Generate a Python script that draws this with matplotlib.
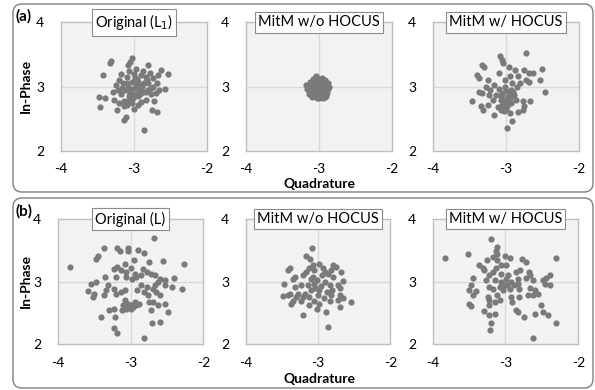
import matplotlib.pyplot as plt
import matplotlib.transforms as mtrans
from matplotlib.patches import FancyBboxPatch

plt.rcParams['font.family'] = ['Lato', 'DejaVu Sans']

# (a) original L1
a1_x = [-3.31, -3.33, -3.03, -3.05, -3.08, -2.81, -2.63, -2.53, -2.67, -3.42,
        -2.58, -3.47, -3.40, -3.46, -3.23, -3.11, -3.13, -2.86, -2.75, -2.69,
        -3.20, -3.15, -3.12, -3.10, -3.08, -3.05, -3.03, -3.00, -2.98, -2.96,
        -2.94, -2.92, -2.90, -2.88, -2.86, -2.84, -2.82, -2.80, -2.78, -2.76,
        -2.74, -2.72, -3.18, -3.14, -3.10, -3.06, -3.02, -2.99, -2.95, -2.90,
        -3.22, -3.25, -3.17, -3.06, -2.97, -2.87, -2.80, -2.77, -2.70, -3.13,
        -3.00, -2.93, -2.89, -3.04, -3.09, -2.97, -2.91, -2.84, -3.01, -2.83,
        -3.27, -3.20, -2.74, -2.68, -2.65, -3.29, -3.16, -2.95, -3.07, -2.99]
a1_y = [3.40, 3.37, 3.44, 3.39, 3.34, 3.34, 3.26, 3.19, 3.18, 3.18,
        2.96, 2.84, 2.83, 2.68, 2.64, 2.53, 2.48, 2.33, 2.63, 2.60,
        3.10, 3.05, 2.95, 3.15, 3.00, 2.90, 3.08, 3.20, 2.98, 3.12,
        2.85, 3.02, 3.18, 2.92, 3.05, 2.80, 3.10, 2.95, 3.22, 2.88,
        3.00, 2.78, 2.88, 2.78, 2.72, 2.80, 2.75, 2.88, 2.72, 2.76,
        2.95, 3.02, 3.20, 3.25, 3.28, 3.25, 3.05, 2.98, 2.90, 2.70,
        2.65, 2.95, 3.00, 2.96, 3.06, 3.04, 2.88, 2.92, 2.83, 3.15,
        2.80, 2.75, 3.13, 3.05, 2.95, 2.92, 2.98, 3.08, 2.86, 3.13]

# (a) MitM w/o HOCUS
a2_x = [-3.15, -3.12, -3.10, -3.08, -3.06, -3.05, -3.03, -3.01, -2.99, -2.97,
        -2.95, -2.93, -2.91, -2.89, -2.87, -3.14, -3.11, -3.09, -3.07, -3.04,
        -3.02, -3.00, -2.98, -2.96, -2.94, -2.92, -2.90, -2.88, -3.13, -3.10,
        -3.06, -3.03, -3.00, -2.97, -2.94, -2.91, -3.08, -3.05, -3.02, -2.99,
        -2.96, -2.93, -3.17, -3.16, -2.86, -3.04, -2.95, -3.01]
a2_y = [3.00, 3.08, 2.92, 3.12, 2.86, 3.02, 3.14, 2.95, 3.06, 2.85,
        3.10, 2.98, 3.04, 2.90, 2.96, 2.94, 3.04, 2.84, 2.98, 2.92,
        3.08, 2.82, 3.00, 3.14, 2.88, 3.10, 2.86, 3.05, 2.88, 2.98,
        3.06, 2.83, 2.96, 3.02, 2.93, 2.84, 3.03, 2.90, 3.00, 2.87,
        2.97, 3.07, 3.02, 2.96, 3.00, 3.16, 2.82, 3.12]

# (a) MitM w/ HOCUS
a3_x = [-2.72, -3.08, -3.05, -3.04, -3.32, -3.30, -2.87, -2.75, -2.68, -2.63,
        -2.51, -2.53, -2.46, -3.10, -3.39, -3.37, -3.24, -2.83, -2.73, -2.68,
        -3.46, -3.34, -3.31, -3.24, -3.16, -2.95, -2.92, -2.99, -2.76, -2.67,
        -2.75, -2.76, -2.86, -2.84, -3.37, -3.32, -3.27, -3.16, -3.23, -3.18,
        -3.11, -3.07, -3.02, -2.98, -2.93, -2.91, -2.95, -3.01, -3.09, -3.05,
        -3.14, -3.07, -3.00, -2.93, -2.89, -2.85, -2.81, -3.21, -2.96, -3.03,
        -2.99, -2.95, -3.05, -3.00, -2.97, -3.02, -2.94, -3.06, -2.90, -3.01]
a3_y = [3.53, 3.47, 3.42, 3.37, 3.34, 3.31, 3.26, 3.26, 3.21, 3.22,
        3.28, 3.11, 2.92, 3.21, 3.18, 3.13, 3.10, 3.16, 3.10, 3.08,
        2.77, 2.70, 2.64, 2.72, 2.56, 2.59, 2.47, 2.35, 2.78, 2.78,
        2.70, 2.64, 2.79, 2.61, 2.92, 2.90, 3.00, 3.03, 2.87, 2.79,
        2.69, 2.64, 2.74, 2.84, 2.95, 3.05, 3.16, 3.10, 2.97, 2.90,
        2.87, 2.79, 2.66, 2.74, 2.87, 3.00, 3.06, 2.95, 3.31, 2.80,
        2.70, 2.90, 2.72, 2.93, 2.76, 2.62, 2.82, 2.85, 2.92, 3.00]

# (b) original L
b1_x = [-2.68, -3.37, -3.18, -3.15, -3.03, -3.03, -2.90, -2.81, -3.45, -3.48,
        -2.95, -2.74, -2.56, -2.27, -3.83, -3.07, -3.18, -3.22, -3.13, -3.06,
        -3.00, -2.94, -2.83, -2.78, -2.72, -2.67, -3.35, -3.20, -3.06, -2.98,
        -2.92, -2.86, -2.59, -2.53, -2.40, -2.29, -2.43, -2.53, -2.62, -2.67,
        -2.69, -2.77, -2.81, -2.76, -2.65, -2.59, -2.86, -2.91, -3.08, -3.13,
        -3.20, -3.22, -3.31, -3.33, -3.37, -3.47, -3.54, -3.59, -3.50, -3.52,
        -3.08, -3.04, -2.99, -2.94, -2.92, -3.06, -3.11, -2.99, -2.74, -2.69,
        -2.72, -2.62, -2.52, -2.48, -3.22, -3.30, -3.40, -3.21, -3.22, -3.18,
        -2.82, -2.71, -2.59, -3.02, -2.96, -3.10, -2.88]
b1_y = [3.70, 3.53, 3.53, 3.49, 3.54, 3.49, 3.51, 3.45, 3.41, 3.36,
        3.35, 3.31, 3.33, 3.28, 3.24, 3.28, 3.24, 3.20, 3.19, 3.16,
        3.21, 3.13, 3.20, 3.16, 3.12, 3.11, 3.08, 3.08, 3.08, 3.05,
        3.08, 3.11, 3.04, 3.03, 3.06, 2.89, 2.92, 2.95, 3.00, 2.95,
        2.88, 2.92, 2.84, 2.79, 2.84, 2.79, 2.94, 2.87, 2.87, 2.84,
        2.81, 2.89, 2.94, 2.87, 2.79, 3.00, 2.97, 2.85, 2.81, 2.76,
        2.71, 2.65, 2.63, 2.67, 2.62, 2.57, 2.55, 2.57, 2.68, 2.67,
        2.55, 2.62, 2.65, 2.52, 2.56, 2.55, 2.43, 2.43, 2.26, 2.18,
        2.10, 2.34, 2.36, 2.60, 2.60, 2.62, 2.65]

# (b) MitM w/o HOCUS
b2_x = [-3.08, -3.17, -3.11, -3.39, -3.42, -3.07, -2.98, -2.79, -2.75, -2.82,
        -2.68, -3.12, -3.16, -3.05, -2.93, -3.32, -3.35, -3.21, -3.07, -2.95,
        -2.86, -2.79, -2.66, -3.47, -3.32, -3.23, -3.14, -3.05, -2.91, -2.84,
        -2.72, -2.70, -2.80, -2.88, -2.98, -3.09, -3.18, -3.28, -3.39, -3.49,
        -3.41, -3.30, -3.21, -3.12, -3.00, -2.92, -2.82, -2.70, -2.65, -3.35,
        -3.37, -3.23, -3.12, -3.02, -2.84, -2.72, -2.55, -2.70, -2.89, -3.21,
        -2.86, -3.06, -2.98, -3.02, -2.96, -3.10, -2.90, -3.04]
b2_y = [3.54, 3.41, 3.36, 3.22, 3.19, 3.27, 3.28, 3.27, 3.24, 3.19,
        3.16, 3.21, 3.16, 3.19, 3.21, 3.08, 3.05, 3.11, 3.08, 3.11,
        3.13, 3.08, 3.01, 2.97, 2.92, 2.95, 2.95, 2.97, 3.00, 2.95,
        2.95, 2.90, 2.87, 2.84, 2.87, 2.87, 2.81, 2.81, 2.81, 2.77,
        2.79, 2.76, 2.76, 2.76, 2.79, 2.74, 2.79, 2.79, 2.74, 2.69,
        2.65, 2.69, 2.63, 2.57, 2.69, 2.71, 2.68, 2.60, 2.52, 2.47,
        2.27, 2.69, 2.65, 3.02, 2.93, 3.04, 3.15, 2.90]

# (b) MitM w/ HOCUS
b3_x = [-3.20, -3.83, -3.51, -3.11, -3.13, -3.11, -3.17, -3.26, -3.11, -3.00,
        -2.94, -2.77, -2.72, -2.31, -3.37, -3.31, -3.13, -3.06, -2.99, -3.29,
        -3.17, -3.22, -3.06, -2.97, -2.85, -2.80, -2.68, -2.67, -2.72, -3.45,
        -3.27, -3.15, -3.06, -2.99, -2.92, -2.83, -2.83, -2.62, -2.49, -2.44,
        -2.39, -2.46, -2.39, -3.47, -3.50, -3.40, -3.23, -3.17, -3.08, -3.01,
        -2.94, -2.88, -2.81, -2.67, -2.60, -2.56, -2.62, -2.69, -3.45, -3.24,
        -3.11, -3.08, -3.15, -3.22, -2.92, -2.91, -2.81, -3.50, -3.47, -3.23,
        -3.29, -3.23, -3.15, -2.85, -2.83, -2.74, -2.60, -2.51, -2.49, -2.42,
        -2.31, -3.20, -3.21, -2.62, -3.04, -2.98]
b3_y = [3.68, 3.38, 3.44, 3.56, 3.49, 3.44, 3.40, 3.35, 3.35, 3.41,
        3.38, 3.36, 3.32, 3.38, 3.27, 3.22, 3.21, 3.26, 3.27, 3.19,
        3.16, 3.11, 3.13, 3.11, 3.16, 3.19, 3.16, 3.11, 3.06, 3.06,
        3.03, 3.03, 3.00, 3.05, 3.00, 3.05, 2.97, 3.03, 3.03, 3.06,
        3.10, 2.97, 2.94, 2.95, 2.87, 2.85, 2.92, 2.89, 2.92, 2.95,
        2.89, 2.94, 2.89, 2.90, 2.87, 2.80, 2.79, 2.78, 2.79, 2.76,
        2.79, 2.71, 2.68, 2.71, 2.76, 2.68, 2.76, 2.65, 2.61, 2.62,
        2.53, 2.47, 2.49, 2.55, 2.52, 2.44, 2.48, 2.63, 2.52, 2.46,
        2.34, 2.34, 2.23, 2.10, 2.87, 2.95]

titles_a = ['Original (L$_1$)', 'MitM w/o HOCUS', 'MitM w/ HOCUS']
titles_b = ['Original (L)', 'MitM w/o HOCUS', 'MitM w/ HOCUS']
xticks = [-4, -3, -2]
yticks = [2, 3, 4]

W, H = 595, 390
fig = plt.figure(figsize=(W / 100, H / 100), dpi=100)

def px_axes(left, top, right, bottom):
    return fig.add_axes([left / W, 1 - bottom / H, (right - left) / W, (bottom - top) / H])

def draw_panel(ax, xs, ys, title):
    ax.set_facecolor('#f2f2f2')
    ax.axvline(-3, color='#d9d9d9', lw=1, zorder=1)
    ax.axhline(3, color='#d9d9d9', lw=1, zorder=1)
    ax.scatter(xs, ys, s=20, color='#7a7a7a', linewidths=0, zorder=3)
    ax.set_xlim(-4, -2)
    ax.set_ylim(2, 4)
    ax.set_xticks(xticks)
    ax.set_yticks(yticks)
    ax.set_xticklabels([str(t) for t in xticks])
    ax.set_yticklabels([str(t) for t in yticks])
    ax.tick_params(length=0, labelsize=10, colors='black', pad=12)
    ax.tick_params(axis='x', pad=9)
    for sp in ax.spines.values():
        sp.set_color('#bfbfbf')
        sp.set_linewidth(1)
    ax.text(0.5, 1.0, title, transform=ax.transAxes, ha='center', va='center',
            fontsize=10.5, zorder=5,
            bbox=dict(boxstyle='square,pad=0.22', fc='white', ec='#8c8c8c', lw=0.8))

# outer rounded frames
for y0, y1 in [(4, 192), (198, 388)]:
    box = FancyBboxPatch((13, H - y1), 580, y1 - y0, boxstyle='round,pad=0,rounding_size=9',
                         transform=mtrans.IdentityTransform(), fc='none', ec='#7f7f7f', lw=1)
    fig.patches.append(box)

row_a = [(60.7, 207), (245.7, 392), (432.7, 579)]
row_b = [(57.7, 203.3), (245.7, 390.3), (432.7, 578.3)]
data_a = [(a1_x, a1_y), (a2_x, a2_y), (a3_x, a3_y)]
data_b = [(b1_x, b1_y), (b2_x, b2_y), (b3_x, b3_y)]

for (l, r), (xs, ys), t in zip(row_a, data_a, titles_a):
    draw_panel(px_axes(l, 22.4, r, 151), xs, ys, t)
for (l, r), (xs, ys), t in zip(row_b, data_b, titles_b):
    draw_panel(px_axes(l, 219, r, 344.3), xs, ys, t)

fig.text(15 / W, 1 - 16 / H, '(a)', fontsize=11, fontweight='bold', va='center', ha='left')
fig.text(15 / W, 1 - 211 / H, '(b)', fontsize=11, fontweight='bold', va='center', ha='left')
fig.text(26 / W, 1 - 86 / H, 'In-Phase', fontsize=10, fontweight='bold', rotation=90,
         va='center', ha='center')
fig.text(26 / W, 1 - 281 / H, 'In-Phase', fontsize=10, fontweight='bold', rotation=90,
         va='center', ha='center')
fig.text(320 / W, 1 - 184 / H, 'Quadrature', fontsize=10, fontweight='bold', va='center', ha='center')
fig.text(320 / W, 1 - 379 / H, 'Quadrature', fontsize=10, fontweight='bold', va='center', ha='center')

fig.savefig('out.png', dpi=100)
